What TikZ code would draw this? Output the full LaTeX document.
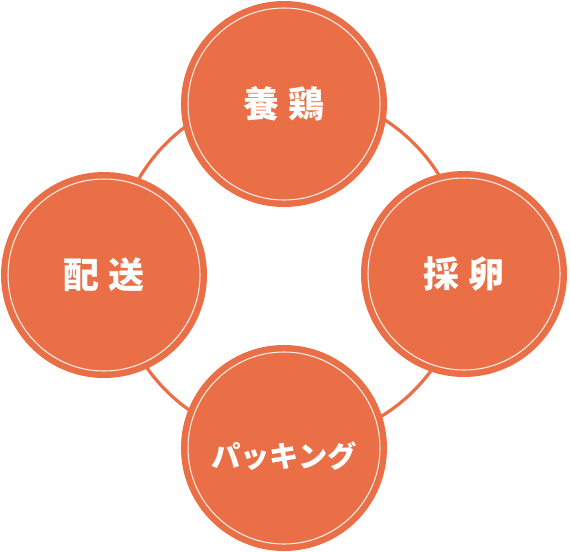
\documentclass[tikz,border=0pt]{standalone}
\usepackage{fontspec}
\newfontfamily\jpfont{Noto Sans CJK JP}
\definecolor{eggorange}{RGB}{234,110,70}
\tikzset{
    stage/.style={shape=circle, fill=eggorange, minimum size=154.5pt, inner sep=0pt, text=white,
        font=\jpfont\bfseries\fontsize{27}{30}\selectfont,
        path picture={\draw[draw=white!88!eggorange, line width=0.8pt] (path picture bounding box.center) circle[radius=72pt];}}}

\begin{document}
\begin{tikzpicture}[x=0.75pt, y=-0.75pt]

                    \useasboundingbox (0,0) rectangle (570,552);
                    \coordinate (O) at (290,267);
                    \draw[draw=eggorange, line width=2.4pt] (O) circle[radius=131.25pt];

                    \node[stage] (A) at (284,104) {養\hspace{0.25em}鶏};
                    \node[stage] (B) at (464,274) {採\hspace{0.25em}卵};
                    \node[stage] (C) at (284,448) {\fontsize{22}{26}\selectfont\raisebox{-6pt}[\height][\depth]{パッキング}};
                    \node[stage] (D) at (104,275) {配\hspace{0.25em}送};

\end{tikzpicture}
\end{document}
